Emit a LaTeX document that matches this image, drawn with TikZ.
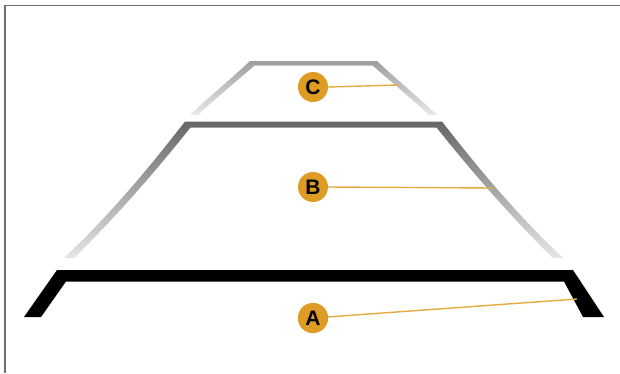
\documentclass[tikz,border=0pt]{standalone}
\usepackage{fontspec}
\setmainfont{Liberation Sans}
\definecolor{badge}{RGB}{222,156,36}
\definecolor{leader}{RGB}{228,172,60}
\definecolor{frame}{RGB}{110,110,110}
\tikzset{
  badge/.style={circle,fill=badge,inner sep=0pt,minimum size=30pt,font=\fontsize{21}{21}\selectfont\bfseries,text=black},
  leaderline/.style={draw=leader,line width=1.4pt},
}
\begin{document}
\begin{tikzpicture}[x=1pt,y=-1pt]
\useasboundingbox (0,0) rectangle (620,373);
\fill[white] (0,0) rectangle (620,373);
% frame
\draw[frame,line width=1.5pt] (5,373) -- (5,5.5) -- (620,5.5);
% C lines
\shade[top color=black!38,bottom color=black!9]
  (250,61) -- (377,61)
  .. controls (395,78) and (418,97) .. (437,115) -- (429,115)
  .. controls (411,98) and (389,80) .. (372.5,65.5) -- (254.5,65.5)
  .. controls (238,80) and (216,98) .. (198,115) -- (190,115)
  .. controls (209,97) and (232,78) .. (250,61) -- cycle;
% B lines
\shade[top color=black!60,bottom color=black!10]
  (185,121.5) -- (442,121.5)
  .. controls (472,160) and (512,210) .. (563,258) -- (553,258)
  .. controls (504,210) and (465,163) .. (436.5,127.5) -- (190.5,127.5)
  .. controls (162,163) and (123,210) .. (74,258) -- (64,258)
  .. controls (115,210) and (155,160) .. (185,121.5) -- cycle;
% A line
\fill[black]
  (57,270) -- (573,270) -- (604,317) -- (583,317) -- (564,281.5)
  -- (66,281.5) -- (41,317) -- (24,317) -- cycle;
% labels
\coordinate (cEnd) at (398,85);
\coordinate (bEnd) at (493,188);
\coordinate (aEnd) at (577,299);
\node[badge] (labC) at (313,87) {C};
\node[badge] (labB) at (313,187) {B};
\node[badge] (labA) at (313,318) {A};
\draw[leaderline] (labC.east) -- (cEnd);
\draw[leaderline] (labB.east) -- (bEnd);
\draw[leaderline] (labA) -- (aEnd);
\node[badge] at (labA) {A};
\end{tikzpicture}
\end{document}
